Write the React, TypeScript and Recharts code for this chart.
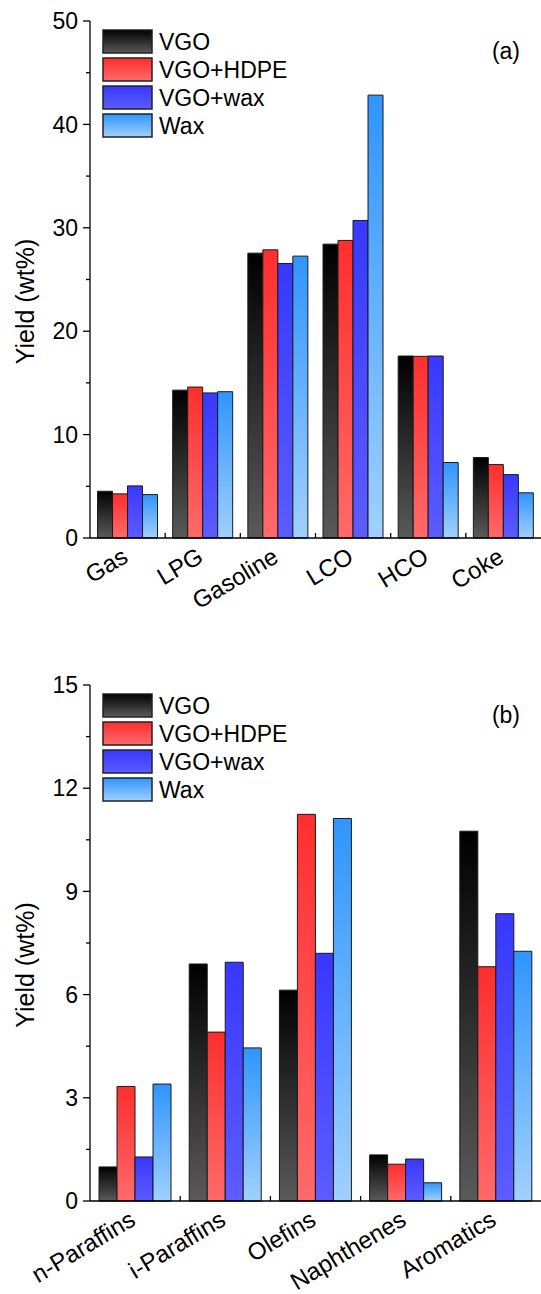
import React from "react";
import { BarChart, Bar, XAxis, YAxis, Legend, Label } from "recharts";

const FONT = "Arial, 'Liberation Sans', Helvetica, sans-serif";
const W = 541;
const LEFT = 90;

const seriesNames = ["VGO", "VGO+HDPE", "VGO+wax", "Wax"];
// top / bottom colour of each bar gradient
const seriesColors = [
  ["#000000", "#5a5a5a"],
  ["#ff2e2e", "#ff6a6a"],
  ["#3838ff", "#5c5cff"],
  ["#2f95ff", "#a0d0ff"],
];

// (a) product yields
const productCats = ["Gas", "LPG", "Gasoline", "LCO", "HCO", "Coke"];
const productVGO = [4.52, 14.3, 27.55, 28.42, 17.6, 7.78];
const productHDPE = [4.27, 14.6, 27.87, 28.78, 17.57, 7.1];
const productVGOwax = [5.04, 14.03, 26.55, 30.71, 17.6, 6.13];
const productWax = [4.2, 14.15, 27.26, 42.83, 7.3, 4.37];
const productTicks = [0, 5, 10, 15, 20, 25, 30, 35, 40, 45, 50];
const productLabels = [0, 10, 20, 30, 40, 50];

// (b) gasoline composition
const groupCats = ["n-Paraffins", "i-Paraffins", "Olefins", "Naphthenes", "Aromatics"];
const groupVGO = [0.99, 6.89, 6.13, 1.34, 10.75];
const groupHDPE = [3.33, 4.91, 11.24, 1.07, 6.81];
const groupVGOwax = [1.28, 6.94, 7.2, 1.22, 8.35];
const groupWax = [3.4, 4.45, 11.12, 0.53, 7.26];
const groupTicks = [0, 1.5, 3, 4.5, 6, 7.5, 9, 10.5, 12, 13.5, 15];
const groupLabels = [0, 3, 6, 9, 12, 15];

const buildRows = (cats: string[], series: number[][]) =>
  cats.map((name, i) => ({
    name,
    s0: series[0][i],
    s1: series[1][i],
    s2: series[2][i],
    s3: series[3][i],
  }));

const productRows = buildRows(productCats, [productVGO, productHDPE, productVGOwax, productWax]);
const groupRows = buildRows(groupCats, [groupVGO, groupHDPE, groupVGOwax, groupWax]);

const Gradients = ({ prefix }: { prefix: string }) => (
  <defs>
    {seriesColors.map(([top, bottom], i) => (
      <linearGradient key={i} id={`${prefix}-g${i}`} x1="0" y1="0" x2="0" y2="1">
        <stop offset="0%" stopColor={top} />
        <stop offset="100%" stopColor={bottom} />
      </linearGradient>
    ))}
  </defs>
);

const LegendBox = ({ prefix }: { prefix: string }) => (
  <div style={{ fontFamily: FONT, fontSize: 23, color: "#000" }}>
    {seriesNames.map((n, i) => (
      <div key={n} style={{ display: "flex", alignItems: "center", height: 28 }}>
        <svg width={52} height={26} style={{ display: "block" }}>
          <Gradients prefix={`${prefix}-lg`} />
          <rect x={1} y={1} width={49} height={23} fill={`url(#${prefix}-lg-g${i})`} stroke="#222" strokeWidth={1.5} />
        </svg>
        <span style={{ marginLeft: 5, lineHeight: "26px" }}>{n}</span>
      </div>
    ))}
  </div>
);

type PanelProps = {
  id: string;
  rows: any[];
  ticks: number[];
  labels: number[];
  tag: string;
  top: number;
  height: number;
  xHeight: number;
};

const Panel = ({ id, rows, ticks, labels, tag, top, height, xHeight }: PanelProps) => {
  const band = (W - LEFT) / rows.length;
  const max = ticks[ticks.length - 1];

  const LeftTick = (p: any) => {
    const major = labels.includes(p.payload.value);
    return (
      <g>
        <line x1={p.x} x2={p.x - (major ? 7 : 4)} y1={p.y} y2={p.y} stroke="#000" strokeWidth={1.3} />
        {major && (
          <text x={p.x - 12} y={p.y} dy="0.36em" textAnchor="end" fontFamily={FONT} fontSize={23} fill="#000">
            {p.payload.value}
          </text>
        )}
      </g>
    );
  };

  const RightTick = (p: any) => {
    const major = labels.includes(p.payload.value);
    return <line x1={p.x} x2={p.x - (major ? 8 : 6)} y1={p.y} y2={p.y} stroke="#000" strokeWidth={1.3} />;
  };

  const BottomTick = (p: any) => {
    const bx = p.x - band / 2;
    const ax = p.x + 2;
    const ay = p.y + 23;
    return (
      <g>
        {p.index > 0 && <line x1={bx} x2={bx} y1={p.y} y2={p.y - 5} stroke="#000" strokeWidth={1.3} />}
        <text x={ax} y={ay} transform={`rotate(-31 ${ax} ${ay})`} textAnchor="end" fontFamily={FONT} fontSize={24} fill="#000">
          {p.payload.value}
        </text>
      </g>
    );
  };

  const TopTick = (p: any) => {
    const bx = p.x - band / 2;
    return p.index > 0 ? <line x1={bx} x2={bx} y1={p.y} y2={p.y + 5} stroke="#000" strokeWidth={1.3} /> : <g />;
  };

  const YTitle = (p: any) => {
    const vb = p.viewBox;
    const cy = vb.y + vb.height / 2 + 22;
    return (
      <text x={25} y={cy} transform={`rotate(-90 25 ${cy})`} textAnchor="middle" dominantBaseline="central" fontFamily={FONT} fontSize={25} fill="#000">
        Yield (wt%)
      </text>
    );
  };

  return (
    <div style={{ position: "absolute", left: 0, top, width: W, height }}>
      <BarChart
        width={W}
        height={height}
        data={rows}
        margin={{ top: 21, right: 0, bottom: 0, left: 0 }}
        barGap={0}
        barCategoryGap="10%"
      >
        <Gradients prefix={id} />
        <XAxis
          dataKey="name"
          height={xHeight}
          tickSize={0}
          tickMargin={0}
          tickLine={false}
          interval={0}
          axisLine={{ stroke: "#000", strokeWidth: 1.3 }}
          tick={BottomTick}
        />
        <XAxis
          xAxisId="top"
          dataKey="name"
          orientation="top"
          height={0}
          tickSize={0}
          tickMargin={0}
          tickLine={false}
          interval={0}
          axisLine={{ stroke: "#000", strokeWidth: 1.3 }}
          tick={TopTick}
        />
        <YAxis
          width={LEFT}
          domain={[0, max]}
          ticks={ticks}
          interval={0}
          tickSize={0}
          tickMargin={0}
          tickLine={false}
          axisLine={{ stroke: "#000", strokeWidth: 1.3 }}
          tick={LeftTick}
        >
          <Label content={YTitle} />
        </YAxis>
        <YAxis
          yAxisId="r"
          orientation="right"
          width={0}
          domain={[0, max]}
          ticks={ticks}
          interval={0}
          tickSize={0}
          tickMargin={0}
          tickLine={false}
          axisLine={{ stroke: "#000", strokeWidth: 1.3 }}
          tick={RightTick}
        />
        <Legend
          layout="vertical"
          align="center"
          verticalAlign="middle"
          wrapperStyle={{ left: 102, top: 28, width: "auto", height: "auto" }}
          content={() => <LegendBox prefix={id} />}
        />
        {seriesNames.map((n, i) => (
          <Bar
            key={n}
            dataKey={`s${i}`}
            name={n}
            fill={`url(#${id}-g${i})`}
            stroke="#1a1a1a"
            strokeWidth={1}
            isAnimationActive={false}
          />
        ))}
      </BarChart>
      <div
        style={{
          position: "absolute",
          left: 460,
          top: 40,
          width: 60,
          textAlign: "right",
          fontFamily: FONT,
          fontSize: 23,
          lineHeight: "23px",
          color: "#000",
        }}
      >
        {tag}
      </div>
    </div>
  );
};

export default function App() {
  return (
    <div style={{ position: "absolute", left: 0, top: 0, width: W, height: 1294, background: "#fff" }}>
      <Panel id="pa" rows={productRows} ticks={productTicks} labels={productLabels} tag="(a)" top={0} height={620} xHeight={82} />
      <Panel id="pb" rows={groupRows} ticks={groupTicks} labels={groupLabels} tag="(b)" top={664} height={630} xHeight={93} />
    </div>
  );
}
